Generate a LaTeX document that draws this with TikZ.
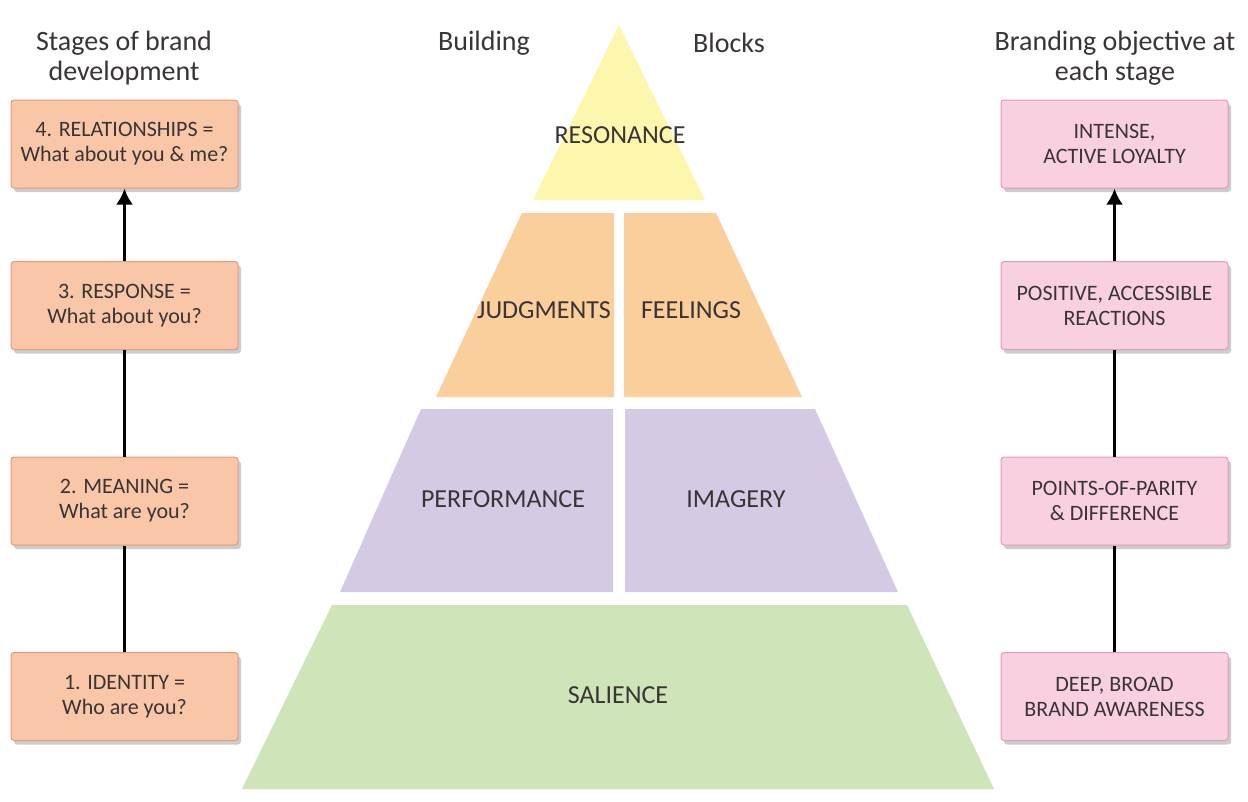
\documentclass[tikz,border=0pt]{standalone}
\usepackage{fontspec}
\setmainfont{Carlito}
\usetikzlibrary{arrows.meta,shadows}
\definecolor{txt}{HTML}{3A3535}
\definecolor{lfill}{HTML}{FAC6A8}
\definecolor{lbord}{HTML}{E4997A}
\definecolor{rfill}{HTML}{F9CFE2}
\definecolor{rbord}{HTML}{DE9BBB}
\definecolor{cyel}{HTML}{FDF7AE}
\definecolor{cora}{HTML}{FBCF9B}
\definecolor{cpur}{HTML}{D4CAE3}
\definecolor{cgre}{HTML}{CFE4B8}
\tikzset{
  boxbase/.style={line width=1pt, rounded corners=3pt, minimum width=227pt,
    minimum height=88pt, inner sep=0pt, align=center, text=txt,
    font=\fontsize{22}{25}\selectfont,
    drop shadow={shadow xshift=3pt, shadow yshift=-4pt, opacity=0.4, fill=gray}},
  stagebox/.style={boxbase, draw=lbord, fill=lfill},
  objbox/.style={boxbase, draw=rbord, fill=rfill},
  titletext/.style={align=center, text=txt, font=\fontsize{28}{30}\selectfont},
  layertext/.style={text=txt, font=\fontsize{26}{28}\selectfont},
  link/.style={line width=3.8pt, black},
  linkarrow/.style={link, -{Latex[length=16pt,width=17pt]}}
}
\begin{document}
\begin{tikzpicture}[x=1pt,y=-1pt]
\useasboundingbox (0,0) rectangle (1248,801);
\fill[white] (0,0) rectangle (1248,801);

% titles
\node[titletext] (tl) at (124,58) {Stages of brand\\development};
\node[titletext] (tr) at (1115,58) {Branding objective at\\each stage};
\node[titletext] (tb1) at (484,43) {Building};
\node[titletext] (tb2) at (729,43) {Blocks};

% pyramid
\fill[cyel] (619,25) -- (705,200) -- (533,200) -- cycle;
\fill[cora] (522,213) -- (614,213) -- (614,397) -- (436,397) -- cycle;
\fill[cora] (624,213) -- (716,213) -- (802,397) -- (624,397) -- cycle;
\fill[cpur] (421,409) -- (613,409) -- (613,592) -- (340,592) -- cycle;
\fill[cpur] (625,409) -- (815,409) -- (898,592) -- (625,592) -- cycle;
\fill[cgre] (332,605) -- (907,605) -- (994,789) -- (242,789) -- cycle;

\node[layertext] (res) at (620,135) {RESONANCE};
\node[layertext] (jud) at (544,310) {JUDGMENTS};
\node[layertext] (fee) at (691,310) {FEELINGS};
\node[layertext] (per) at (503,499) {PERFORMANCE};
\node[layertext] (ima) at (736,499) {IMAGERY};
\node[layertext] (sal) at (618,695) {SALIENCE};

% left stage boxes
\node[stagebox] (s4) at (124.5,144) {4. RELATIONSHIPS =\\What about you \& me?};
\node[stagebox] (s3) at (124.5,305.5) {3. RESPONSE =\\What about you?};
\node[stagebox] (s2) at (124.5,501) {2. MEANING =\\What are you?};
\node[stagebox] (s1) at (124.5,696.5) {1. IDENTITY =\\Who are you?};

% right objective boxes
\node[objbox] (o4) at (1114.5,144) {INTENSE,\\ACTIVE LOYALTY};
\node[objbox] (o3) at (1114.5,305.5) {POSITIVE, ACCESSIBLE\\REACTIONS};
\node[objbox] (o2) at (1114.5,501) {POINTS-OF-PARITY\\\& DIFFERENCE};
\node[objbox] (o1) at (1114.5,696.5) {DEEP, BROAD\\BRAND AWARENESS};

% connectors
\draw[link] (s1.north) -- (s2.south);
\draw[link] (s2.north) -- (s3.south);
\draw[linkarrow] (s3.north) -- (s4.south);
\draw[link] (o1.north) -- (o2.south);
\draw[link] (o2.north) -- (o3.south);
\draw[linkarrow] (o3.north) -- (o4.south);
\end{tikzpicture}
\end{document}
